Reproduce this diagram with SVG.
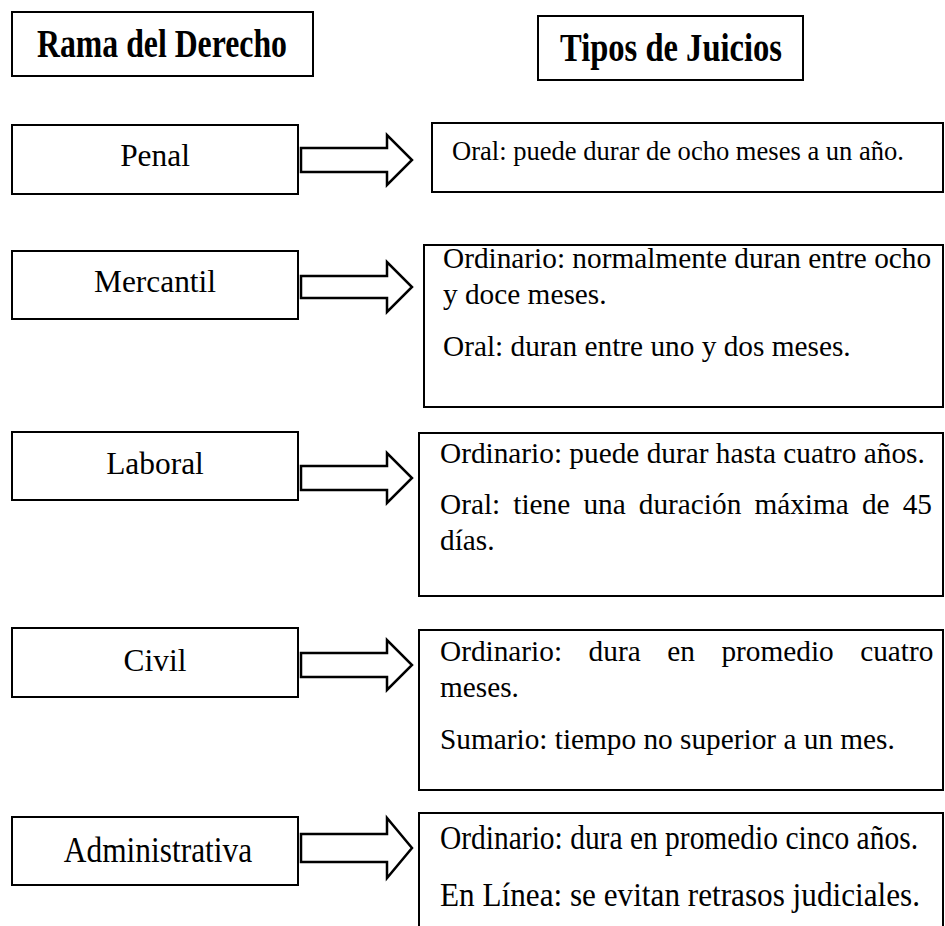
<svg xmlns="http://www.w3.org/2000/svg" width="945" height="926" viewBox="0 0 945 926">
<style>
.box{fill:#fff;stroke:#000;stroke-width:2}
.arrow{fill:#fff;stroke:#000;stroke-width:2.5;stroke-linejoin:miter}
text{font-family:"Liberation Serif","Times New Roman",serif;fill:#000}
.hd{font-size:32px;font-weight:bold}
.lbl{font-size:31.4px;text-anchor:middle}
.body{font-size:29.3px}
.small{font-size:26.5px}
</style>
<rect width="945" height="926" fill="#fff"/>
<g id="header-rama">
<rect class="box" x="12" y="12" width="301" height="64"/>
<text class="hd" transform="translate(37,57) scale(1,1.22)" textLength="250" lengthAdjust="spacingAndGlyphs">Rama del Derecho</text>
</g>
<g id="header-tipos">
<rect class="box" x="538" y="16" width="265" height="64"/>
<text class="hd" transform="translate(560,61) scale(1,1.22)" textLength="222" lengthAdjust="spacingAndGlyphs">Tipos de Juicios</text>
</g>
<g id="penal">
<rect class="box" x="12" y="125" width="286" height="69"/>
<text class="lbl" x="155" y="166">Penal</text>
</g>
<g id="penal-juicios">
<rect class="box" x="432" y="123" width="511" height="69"/>
<text class="small" x="452" y="160" textLength="452" lengthAdjust="spacingAndGlyphs">Oral: puede durar de ocho meses a un año.</text>
</g>
<g id="mercantil">
<rect class="box" x="12" y="251" width="286" height="68"/>
<text class="lbl" x="155" y="292">Mercantil</text>
</g>
<g id="mercantil-juicios">
<rect class="box" x="424" y="245" width="519" height="162"/>
<text class="body" x="443" y="268">Ordinario: normalmente duran entre ocho</text>
<text class="body" x="443" y="304">y doce meses.</text>
<text class="body" x="443" y="356">Oral: duran entre uno y dos meses.</text>
</g>
<g id="laboral">
<rect class="box" x="12" y="432" width="286" height="68"/>
<text class="lbl" x="155" y="474">Laboral</text>
</g>
<g id="laboral-juicios">
<rect class="box" x="419" y="433" width="524" height="163"/>
<text class="body" x="440" y="463">Ordinario: puede durar hasta cuatro años.</text>
<text class="body" y="514"><tspan x="440">Oral:</tspan><tspan x="513.3">tiene</tspan><tspan x="583.4">una</tspan><tspan x="638.8">duración</tspan><tspan x="754.4">máxima</tspan><tspan x="861.9">de</tspan><tspan x="902.7">45</tspan></text>
<text class="body" x="440" y="550">días.</text>
</g>
<g id="civil">
<rect class="box" x="12" y="628" width="286" height="69"/>
<text class="lbl" x="155" y="671">Civil</text>
</g>
<g id="civil-juicios">
<rect class="box" x="419" y="630" width="524" height="160"/>
<text class="body" y="661"><tspan x="440">Ordinario:</tspan><tspan x="588.6">dura</tspan><tspan x="667.2">en</tspan><tspan x="721.4">promedio</tspan><tspan x="860.2">cuatro</tspan></text>
<text class="body" x="440" y="697">meses.</text>
<text class="body" x="440" y="749">Sumario: tiempo no superior a un mes.</text>
</g>
<g id="administrativa">
<rect class="box" x="12" y="817" width="286" height="68"/>
<text class="lbl" transform="translate(158,862) scale(1,1.15)">Administrativa</text>
</g>
<g id="administrativa-juicios">
<rect class="box" x="419" y="813" width="524" height="130"/>
<text class="body" transform="translate(440,849) scale(1,1.15)" textLength="478" lengthAdjust="spacingAndGlyphs">Ordinario: dura en promedio cinco años.</text>
<text class="body" transform="translate(440,906) scale(1,1.15)" textLength="480" lengthAdjust="spacingAndGlyphs">En Línea: se evitan retrasos judiciales.</text>
</g>
<g id="connectors">
<polygon class="arrow" points="301,148 387,148 387,135 412,160 387,185 387,172 301,172"/>
<polygon class="arrow" points="301,276 387,276 387,262 412,287 387,312 387,298 301,298"/>
<polygon class="arrow" points="301,466 387,466 387,453 412,478 387,503 387,490 301,490"/>
<polygon class="arrow" points="301,653 387,653 387,640 412,665 387,690 387,677 301,677"/>
<polygon class="arrow" points="301,834 387,834 387,818 412,848 387,878 387,862 301,862"/>
</g>
</svg>
